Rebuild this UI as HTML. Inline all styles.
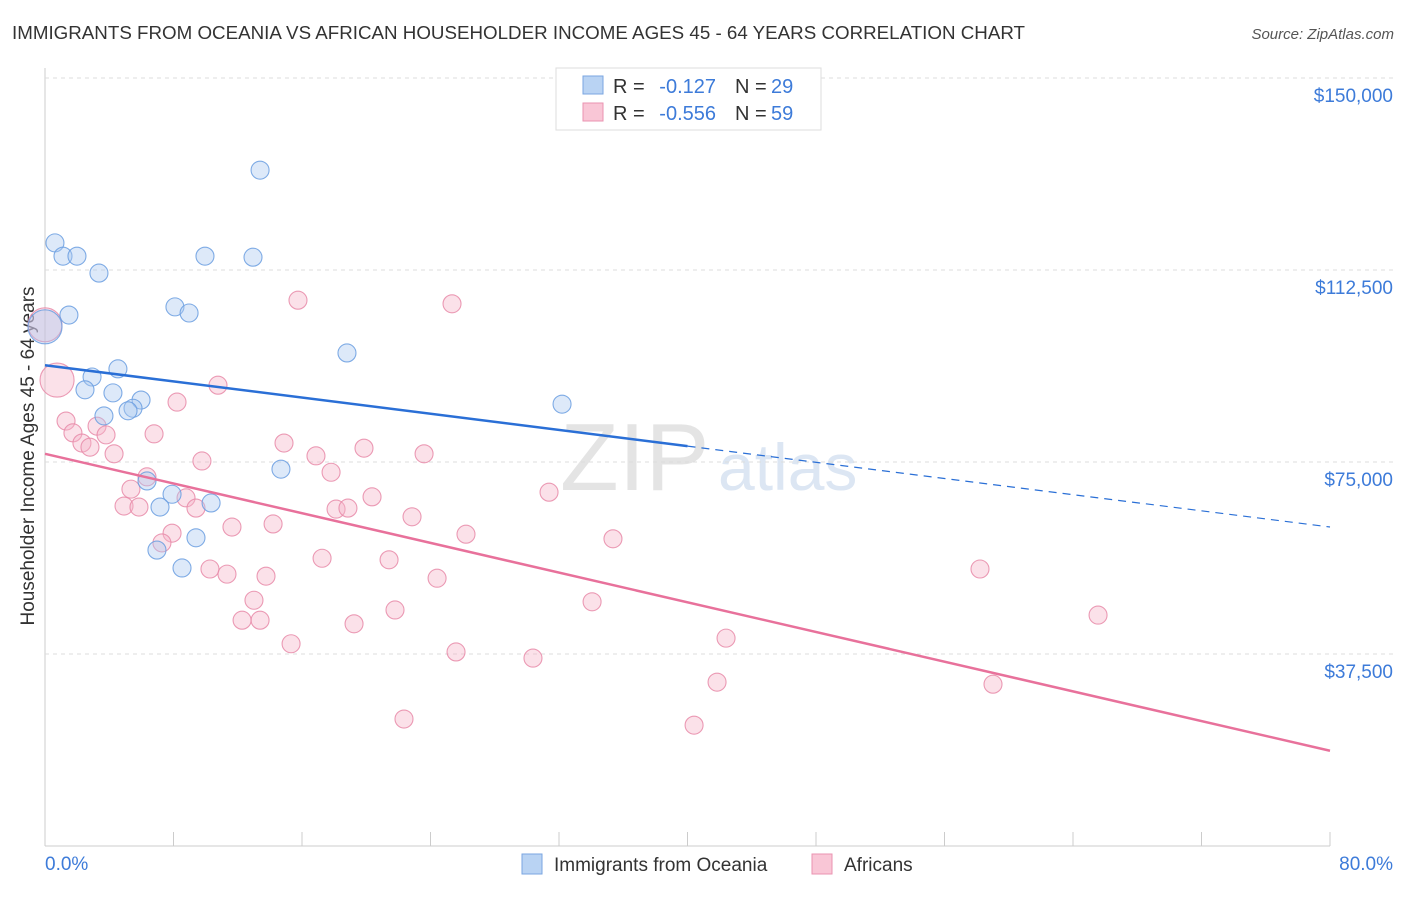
<!DOCTYPE html>
<html><head><meta charset="utf-8"><style>
body{margin:0;background:#fff;font-family:"Liberation Sans",sans-serif}
svg text{font-family:"Liberation Sans",sans-serif}
</style></head><body>
<svg id="c" width="1406" height="892">
<text x="12" y="39" font-size="18" fill="#333" textLength="1013" lengthAdjust="spacingAndGlyphs">IMMIGRANTS FROM OCEANIA VS AFRICAN HOUSEHOLDER INCOME AGES 45 - 64 YEARS CORRELATION CHART</text>
<text x="1394" y="39" font-size="15" fill="#555" font-style="italic" text-anchor="end">Source: ZipAtlas.com</text>
<text x="560" y="490" font-size="96" fill="#e4e4e4" font-family="Liberation Serif">ZIP</text>
<text x="718" y="490" font-size="66" fill="#dce6f3">atlas</text>
<text transform="translate(34,456) rotate(-90)" font-size="19" fill="#333" text-anchor="middle">Householder Income Ages 45 - 64 years</text>
<g id="grid"></g><g id="pts"></g><g id="lines"></g>
<text x="45" y="870" font-size="19" fill="#3d7bd9">0.0%</text>
<text x="1393" y="870" font-size="19" fill="#3d7bd9" text-anchor="end">80.0%</text>
<g>
<rect x="556" y="68" width="265" height="62" fill="#fff" stroke="#ddd"/>
<rect x="583" y="76" width="20" height="18" fill="#b9d3f3" stroke="#7aa6e0"/>
<rect x="583" y="103" width="20" height="18" fill="#f9c6d6" stroke="#ea93b0"/>
<text x="613" y="93" font-size="20" fill="#333">R =</text>
<text x="716" y="93" font-size="20" fill="#3d7bd9" text-anchor="end">-0.127</text>
<text x="735" y="93" font-size="20" fill="#333">N =</text>
<text x="771" y="93" font-size="20" fill="#3d7bd9">29</text>
<text x="613" y="120" font-size="20" fill="#333">R =</text>
<text x="716" y="120" font-size="20" fill="#3d7bd9" text-anchor="end">-0.556</text>
<text x="735" y="120" font-size="20" fill="#333">N =</text>
<text x="771" y="120" font-size="20" fill="#3d7bd9">59</text>
</g>
<g>
<rect x="522" y="854" width="20" height="20" fill="#b9d3f3" stroke="#7aa6e0"/>
<text x="554" y="871" font-size="19" fill="#333">Immigrants from Oceania</text>
<rect x="812" y="854" width="20" height="20" fill="#f9c6d6" stroke="#ea93b0"/>
<text x="844" y="871" font-size="19" fill="#333">Africans</text>
</g>
</svg>
<script>
const yTicks=[37500,75000,112500,150000];
const yTickLabels=["$37,500","$75,000","$112,500","$150,000"];
const blueX=[13.39,.62,1.12,1.99,3.36,9.96,12.95,1.49,8.09,8.97,18.8,0,4.54,2.93,2.49,4.23,5.98,5.48,5.17,3.67,32.19,14.69,6.35,7.91,7.16,10.34,9.4,6.97,8.53];
const blueY=[132,117.8,115.2,115.2,111.9,115.2,115,103.7,105.3,104.1,96.3,101.4,93.2,91.6,89.1,88.5,87.1,85.5,85,84,86.3,73.6,71.3,68.7,66.2,67,60.2,57.8,54.3];
const pinkX=[0,.75,15.75,25.34,10.77,8.22,1.31,3.24,1.74,3.8,6.79,2.3,2.8,4.3,14.88,19.86,23.6,9.77,16.87,17.81,6.35,5.35,20.36,31.38,8.78,4.92,5.85,9.4,18.12,18.86,22.85,11.64,14.2,26.21,7.91,7.28,35.36,17.25,21.42,24.41,10.27,11.33,13.76,13.01,34.06,21.79,12.27,13.39,19.24,42.4,15.32,25.59,30.38,41.84,58.21,65.56,59.02,22.35,40.41];
const pinkY=[101.8,91,106.6,105.9,90,86.7,83,82,80.7,80.3,80.5,78.7,77.9,76.6,78.7,77.7,76.6,75.2,76.2,73,72.1,69.7,68.2,69.1,68,66.4,66.2,66,65.8,66,64.3,62.3,62.9,60.9,61.1,59.2,60,56.2,55.9,52.3,54.1,53.1,52.7,48,47.7,46.1,44.1,44.1,43.4,40.6,39.5,37.9,36.7,32,54.1,45.1,31.6,24.8,23.6];
const blueBig=[11];const pinkBig=[0,1];
const blueTrend=[93.9,62.3];const pinkTrend=[76.6,18.6];const blueSolidEnd=40;
const X=v=>45+v/80*1285, Y=k=>846-k*1000/37500*192;
const NS="http://www.w3.org/2000/svg";
function mk(t,a,p){const e=document.createElementNS(NS,t);for(const k in a)e.setAttribute(k,a[k]);p.appendChild(e);return e;}
const g=document.getElementById('grid');
mk('line',{x1:45,y1:68,x2:45,y2:846,stroke:'#ccc'},g);
mk('line',{x1:45,y1:846,x2:1330,y2:846,stroke:'#ccc'},g);
for(let i=1;i<=10;i++){mk('line',{x1:X(i*8),y1:832,x2:X(i*8),y2:846,stroke:'#ccc'},g);}
yTicks.forEach((v,i)=>{const y=Y(v/1000);
const l=mk('line',{x1:45,y1:y,x2:1394,y2:y,stroke:'#ddd','stroke-dasharray':'4,4'},g);


const t=mk('text',{x:1393,y:y+24,'font-size':19,fill:'#3d7bd9','text-anchor':'end'},g);t.textContent=yTickLabels[i];

});
const p=document.getElementById('pts');
function pts(xs,ys,big,fill,stroke,name){xs.forEach((x,i)=>{const c=mk('circle',{cx:X(x),cy:Y(ys[i]),r:big.includes(i)?17:9,fill:fill,'fill-opacity':0.4,stroke:stroke,'stroke-width':1.1,'stroke-opacity':0.85},p);

});}
pts(pinkX,pinkY,pinkBig,'#f5b3c8','#e889a8','africans-point');
pts(blueX,blueY,blueBig,'#a9c8f0','#6a9de0','oceania-point');
const L=document.getElementById('lines');
const by=x=>blueTrend[0]+(blueTrend[1]-blueTrend[0])*x/80;
let a=mk('line',{x1:X(0),y1:Y(by(0)),x2:X(blueSolidEnd),y2:Y(by(blueSolidEnd)),stroke:'#2a6fd6','stroke-width':2.5},L);

a=mk('line',{x1:X(blueSolidEnd),y1:Y(by(blueSolidEnd)),x2:X(80),y2:Y(by(80)),stroke:'#2a6fd6','stroke-width':1.2,'stroke-dasharray':'8,6'},L);

a=mk('line',{x1:X(0),y1:Y(pinkTrend[0]),x2:X(80),y2:Y(pinkTrend[1]),stroke:'#e8719b','stroke-width':2.5},L);

</script>
</body></html>
